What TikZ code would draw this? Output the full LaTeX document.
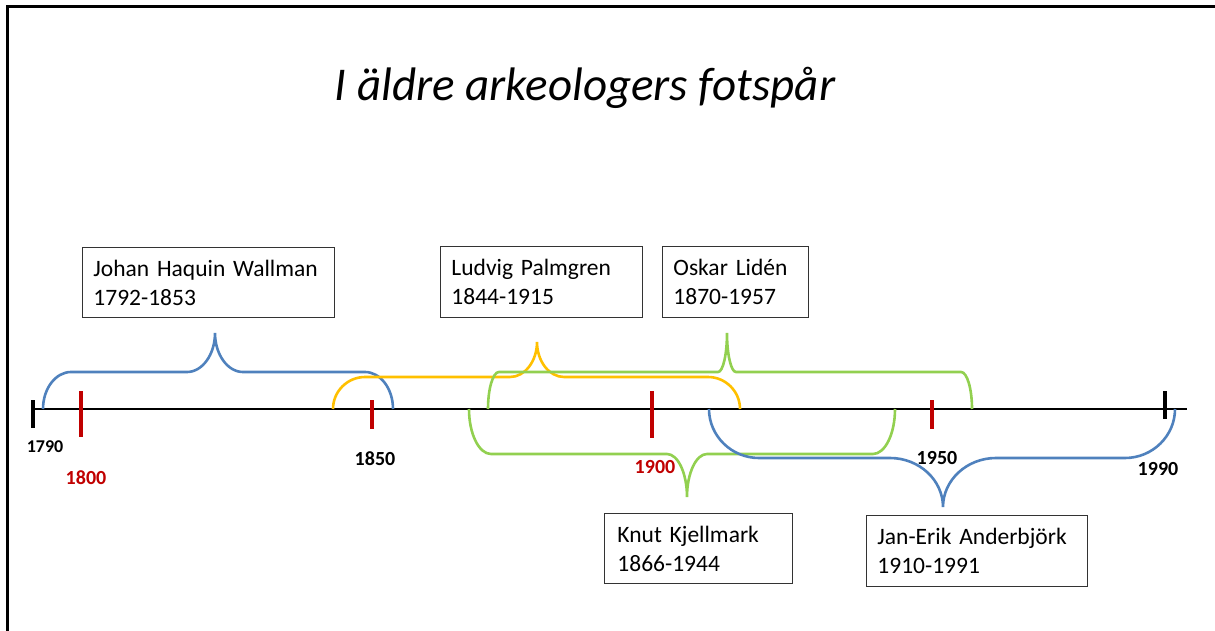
\documentclass[tikz,border=0pt]{standalone}
\usepackage{fontspec}
\setmainfont{Carlito}
\definecolor{bblue}{HTML}{4F81BD}
\definecolor{byellow}{HTML}{FFC000}
\definecolor{bgreen}{HTML}{92D050}
\definecolor{dred}{HTML}{C00000}
\newcommand{\tlbrace}[9]{%
% #1 x1, #2 x2, #3 xm, #4 yb, #5 yh, #6 yt, #7 r, #8 w, #9 colour
\draw[brace,#9] (#1,#4) .. controls (#1,{#4+0.55*(#5-#4)}) and ({#1+0.45*#7},#5) .. ({#1+#7},#5)
 -- ({#3-#8},#5) .. controls ({#3-0.45*#8},#5) and (#3,{#6+0.55*(#5-#6)}) .. (#3,#6)
 .. controls (#3,{#6+0.55*(#5-#6)}) and ({#3+0.45*#8},#5) .. ({#3+#8},#5)
 -- ({#2-#7},#5) .. controls ({#2-0.45*#7},#5) and (#2,{#4+0.55*(#5-#4)}) .. (#2,#4);}
\begin{document}
\begin{tikzpicture}[x=1pt,y=-1pt,
  brace/.style={line width=2.6pt},
  pbox/.style={draw=black!80,line width=0.9pt,anchor=north west,align=left,
    font=\fontsize{23.5}{29}\selectfont,inner xsep=11pt,inner ysep=0pt},
  yr/.style={font=\fontsize{20}{24}\selectfont\bfseries},
  redtick/.style={dred,line width=3.2pt},
  blacktick/.style={black,line width=3.2pt}]
\useasboundingbox (0,0) rectangle (1215,631);
% frame
\draw[line width=3pt] (7,631) -- (7,7) -- (1215,7);
% title
\node[anchor=base,font=\fontsize{47}{56}\selectfont\itshape] (title) at (585,101) {I äldre arkeologers fotspår};
% axis
\coordinate (axL) at (33,409);
\coordinate (axR) at (1187,409);
\draw[line width=2pt] (axL) -- (axR);
% ticks
\draw[blacktick] (33,400) -- (33,428);
\draw[blacktick] (1165,391) -- (1165,419);
\draw[redtick] (81,391) -- (81,437);
\draw[redtick] (372,400) -- (372,429);
\draw[redtick] (652,391) -- (652,438);
\draw[redtick] (932,400) -- (932,429);
% year labels
\node[font=\fontsize{18}{20}\selectfont\bfseries] (y1790) at (45,447) {1790};
\node[yr,text=dred] (y1800) at (86,478) {1800};
\node[yr] (y1850) at (375,459) {1850};
\node[yr,text=dred] (y1900) at (655,467) {1900};
\node[yr] (y1950) at (937,458) {1950};
\node[yr] (y1990) at (1158,469) {1990};
% braces
\tlbrace{43}{393}{215}{409}{372}{333}{28}{28}{bblue}
\tlbrace{333}{740}{537}{409}{377}{342}{32}{27}{byellow}
\tlbrace{488}{972}{727}{409}{372}{333}{11}{9}{bgreen}
\tlbrace{469}{895}{687}{409}{454}{497}{22}{20}{bgreen}
\tlbrace{709}{1175}{943}{409}{458}{507}{50}{53}{bblue}
% boxes
\node[pbox,minimum width=252pt,minimum height=70pt,text width=230pt] (wallman) at (82,247) {Johan Haquin Wallman\\1792-1853};
\node[pbox,minimum width=202pt,minimum height=71pt,text width=180pt] (palmgren) at (440,246) {Ludvig Palmgren\\1844-1915};
\node[pbox,minimum width=146pt,minimum height=71pt,text width=124pt] (liden) at (662,246) {Oskar Lidén\\1870-1957};
\node[pbox,minimum width=184pt,minimum height=70pt,text width=162pt,inner xsep=13pt] (kjellmark) at (604,513) {Knut Kjellmark\\1866-1944};
\node[pbox,minimum width=221pt,minimum height=71pt,text width=199pt] (anderbjork) at (866,515) {Jan-Erik Anderbjörk\\1910-1991};
\end{tikzpicture}
\end{document}
